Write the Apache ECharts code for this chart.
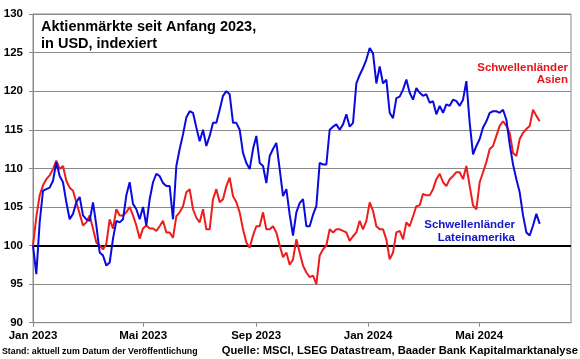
<!DOCTYPE html>
<html><head><meta charset="utf-8">
<script src="https://cdn.jsdelivr.net/npm/echarts@6/dist/echarts.min.js"></script>
<style>html,body{margin:0;padding:0;background:#fff}#c{width:580px;height:359px}</style>
</head><body><div id="c"></div>
<script>
// ---- data ----
const startDate = '2023-01-01';
const axisEndDate = '2024-08-09';
const sampleStepDays = 3.631; // spacing of the samples
const tickDates = ['2023-01-01', '2023-05-01', '2023-09-01', '2024-01-01', '2024-05-01'];
const tickLabels = ['Jan 2023', 'Mai 2023', 'Sep 2023', 'Jan 2024', 'Mai 2024'];
const seriesNames = ['Schwellenländer Asien', 'Schwellenländer Lateinamerika'];

const latamValues = [
  100, 96.3, 103.0, 107.1, 107.3, 107.5, 108.4, 110.8, 109.0, 108.2,
  105.6, 103.4, 104.1, 105.6, 106.3, 103.9, 103.4, 103.2, 105.6, 102.6,
  99.1, 98.7, 97.4, 97.8, 100.9, 103.2, 103.0, 103.4, 106.5, 108.2,
  105.4, 104.7, 103.4, 105.0, 102.6, 106.0, 108.2, 109.3,
  109.0, 108.1, 107.7, 107.7, 103.4, 110.3, 112.5, 114.4, 116.6, 117.4,
  117.2, 115.3, 113.5, 115.0, 112.9, 114.2, 115.9, 115.9, 117.6, 119.4,
  120.0, 119.6, 115.9, 115.9, 115.0, 112.0, 110.7, 109.9, 112.5, 114.2,
  110.7, 110.3, 108.1, 111.6, 112.5, 113.3, 109.9, 106.4, 107.3,
  104.0, 101.3, 104.3, 105.5, 106.0, 102.5, 102.5, 104.0, 105.1, 110.7,
  110.5, 110.5, 115.0, 115.4, 115.7, 115.0, 115.7, 117.0, 115.4, 115.9,
  121.0, 122.1, 123.0, 124.1, 125.6, 124.9, 121.0, 123.2, 121.0, 121.5,
  117.2, 116.5, 119.1, 119.3, 120.2, 121.5, 119.8, 118.9, 120.4,
  119.8, 119.4, 119.6, 118.5, 118.7, 117.0, 118.1, 117.2, 118.3, 118.1,
  118.9, 118.7, 118.1, 118.9, 121.3, 115.9, 111.8, 112.9, 113.8, 115.3,
  116.1, 117.2, 117.4, 117.4, 117.2, 117.6, 116.3, 113.1, 110.5, 108.6,
  106.9, 103.9, 101.7, 101.3, 102.6, 104.1, 102.8
];

const asiaValues = [
  100, 103.7, 106.5, 107.8, 108.6, 109.1, 109.9, 111.0, 109.9, 110.3,
  108.4, 107.5, 107.1, 105.6, 104.1, 102.6, 103.0, 103.9, 102.2, 100.4,
  100.0, 99.5, 100.2, 103.4, 102.2, 104.7, 103.9, 103.9, 104.3, 105.0,
  103.9, 102.6, 100.9, 102.2, 102.6, 102.2, 102.2, 101.9,
  102.5, 103.2, 101.7, 101.7, 101.0, 103.8, 104.3, 105.1, 106.9, 107.3,
  104.7, 103.6, 103.0, 104.7, 102.1, 102.1, 106.0, 107.3, 105.6, 106.0,
  107.7, 108.8, 106.4, 105.6, 104.3, 102.1, 100.4, 99.7, 101.3, 102.5,
  102.5, 104.3, 102.1, 102.1, 102.5, 101.7, 100.0, 98.5, 99.1,
  97.5, 98.2, 100.8, 99.1, 97.4, 96.5, 95.9, 96.1, 95.0, 98.7,
  99.5, 100.0, 102.1, 101.7, 102.1, 102.1, 101.9, 101.7, 100.6, 101.2,
  101.7, 103.2, 102.1, 103.2, 105.6, 104.5, 102.5, 102.1, 102.1, 100.8,
  98.2, 99.1, 101.7, 101.9, 100.8, 103.0, 102.5, 103.8, 105.1,
  105.2, 106.7, 106.5, 106.5, 107.3, 108.6, 109.3, 108.2, 107.7, 108.6,
  109.0, 109.5, 109.5, 108.6, 110.3, 107.7, 105.2, 104.7, 108.2, 109.5,
  110.8, 112.5, 112.9, 114.2, 115.5, 116.1, 115.5, 114.6, 112.0, 111.6,
  113.8, 114.6, 115.1, 115.5, 117.6, 116.8, 116.1
];

// ---- build ----
const DAY = 86400000;
const t0 = Date.parse(startDate + 'T00:00:00Z');
const dayOf = d => (Date.parse(d + 'T00:00:00Z') - t0) / DAY;
const tickDays = tickDates.map(dayOf);
const pair = vals => vals.map((v, i) => [i * sampleStepDays, v]);

const FONT = '"Liberation Sans", Arial, sans-serif';
const GRID = '#8a8a8a';

const chart = echarts.init(document.getElementById('c'), null, {renderer: 'canvas'});
chart.setOption({
  animation: false,
  backgroundColor: '#ffffff',
  grid: {left: 33, right: 9, top: 14, bottom: 36.3, containLabel: false, outerBoundsMode: 'none',
         show: true, borderColor: GRID, borderWidth: 1},
  xAxis: {
    type: 'value',
    min: 0,
    max: dayOf(axisEndDate),
    splitLine: {show: false},
    axisLine: {show: true, lineStyle: {color: GRID, width: 1}},
    axisTick: {show: true, length: 4, lineStyle: {color: GRID}, customValues: tickDays},
    axisLabel: {
      customValues: tickDays,
      formatter: v => { const i = tickDays.indexOf(v); return i >= 0 ? tickLabels[i] : ''; },
      color: '#000', fontFamily: FONT, fontWeight: 'bold', fontSize: 11.5, margin: 7,
      showMinLabel: true, showMaxLabel: true
    }
  },
  yAxis: {
    type: 'value', min: 90, max: 130, interval: 5,
    axisLine: {show: true, lineStyle: {color: GRID}},
    axisTick: {show: true, length: 4, lineStyle: {color: GRID}},
    splitLine: {show: true, lineStyle: {color: GRID, width: 1}},
    axisLabel: {color: '#000', fontFamily: FONT, fontWeight: 'bold', fontSize: 11.5, margin: 10}
  },
  series: [
    {
      name: seriesNames[0], type: 'line', data: pair(asiaValues), showSymbol: false, symbol: 'none',
      lineStyle: {color: '#ee1c1c', width: 2}, z: 3,
      markLine: {silent: true, symbol: 'none', label: {show: false},
        lineStyle: {color: '#000', width: 2, type: 'solid'}, data: [{yAxis: 100}], z: 2}
    },
    {
      name: seriesNames[1], type: 'line', data: pair(latamValues), showSymbol: false, symbol: 'none',
      lineStyle: {color: '#0a0ae0', width: 2}, z: 4
    }
  ],
  graphic: [
    {type: 'text', x: 41, y: 18.5, z: 10, style: {text: 'Aktienmärkte seit Anfang 2023,\nin USD, indexiert',
      font: 'bold 14.5px ' + FONT, fill: '#000', lineHeight: 17, verticalAlign: 'top', align: 'left'}},
    {type: 'text', x: 568, y: 61.5, z: 10, style: {text: 'Schwellenländer\nAsien',
      font: 'bold 11.5px ' + FONT, fill: '#e8141a', lineHeight: 12.5, verticalAlign: 'top', align: 'right'}},
    {type: 'text', x: 515, y: 219, z: 10, style: {text: 'Schwellenländer\nLateinamerika',
      font: 'bold 11.5px ' + FONT, fill: '#1414c8', lineHeight: 12.5, verticalAlign: 'top', align: 'right'}},
    {type: 'text', x: 2, y: 352, z: 10, style: {text: 'Stand: aktuell zum Datum der Veröffentlichung',
      font: 'bold 8.8px ' + FONT, fill: '#000', verticalAlign: 'middle', align: 'left'}},
    {type: 'text', x: 578, y: 351, z: 10, style: {text: 'Quelle: MSCI, LSEG Datastream, Baader Bank Kapitalmarktanalyse',
      font: 'bold 11.2px ' + FONT, fill: '#000', verticalAlign: 'middle', align: 'right'}}
  ]
});
</script>
</body></html>
